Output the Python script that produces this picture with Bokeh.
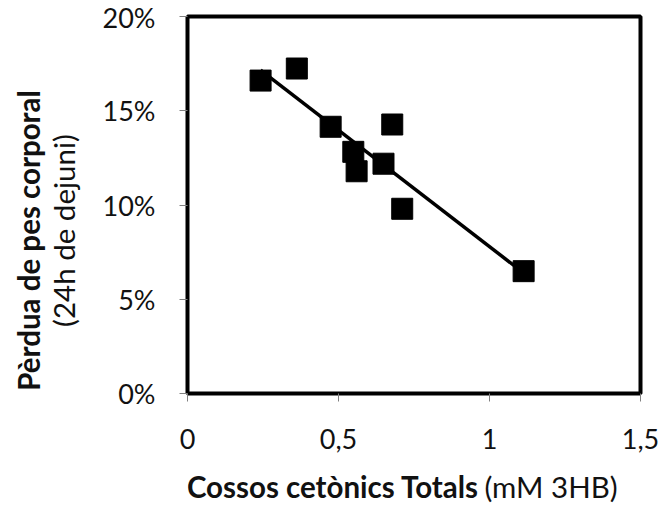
import numpy as np
from bokeh.plotting import figure
from bokeh.layouts import row, column
from bokeh.models import (Label, FixedTicker, NumeralTickFormatter, Range1d,
                          CustomJSTickFormatter, ColumnDataSource)
from bokeh.embed import file_html
from bokeh.resources import INLINE

# Total ketone bodies (mM 3HB) vs body weight loss after 24 h fasting
ketones = [0.242, 0.362, 0.474, 0.678, 0.549, 0.560, 0.649, 0.711, 1.113]
weight_loss = [0.1660, 0.1724, 0.1415, 0.1427, 0.1282, 0.1179, 0.1219, 0.0980, 0.0649]

x_ticks = [0, 0.5, 1, 1.5]
y_ticks = [0, 0.05, 0.10, 0.15, 0.20]

FONT = "Lato"
TEXT_COLOR = "#111111"
TICK_FONT_SIZE = "27px"
TITLE_FONT_SIZE = "29.5px"

LEFT_W = 90          # strip holding the y-axis title
MAIN_W, MAIN_H = 572, 462
BOTTOM_H = 55        # strip holding the x-axis title

# ---- main scatter panel -------------------------------------------------
p = figure(width=MAIN_W, height=MAIN_H, output_backend="svg", toolbar_location=None,
           x_range=Range1d(0, 1.5), y_range=Range1d(0, 0.20),
           min_border_left=97, min_border_right=22,
           min_border_top=16, min_border_bottom=MAIN_H - 393)

p.grid.visible = False
p.background_fill_color = "white"
p.border_fill_color = "white"
p.outline_line_color = "black"
p.outline_line_width = 4
p.outline_line_alpha = 1.0

for ax in (p.xaxis[0], p.yaxis[0]):
    ax.axis_line_color = None
    ax.major_tick_line_color = "#808080"
    ax.major_tick_line_width = 1
    ax.major_tick_in = 0
    ax.major_tick_out = 8
    ax.minor_tick_line_color = None
    ax.major_label_text_font = FONT
    ax.major_label_text_font_size = TICK_FONT_SIZE
    ax.major_label_text_color = TEXT_COLOR

p.xaxis.ticker = FixedTicker(ticks=x_ticks)
p.xaxis.formatter = CustomJSTickFormatter(code="return tick.toString().replace('.', ',');")
p.xaxis.major_label_standoff = 27

p.yaxis.ticker = FixedTicker(ticks=y_ticks)
p.yaxis.formatter = NumeralTickFormatter(format="0%")
p.yaxis.major_label_standoff = 24

# Linear trend line over the observed range
slope, intercept = np.polyfit(ketones, weight_loss, 1)
fit_x = [min(ketones), max(ketones)]
fit_y = [slope * v + intercept for v in fit_x]
p.line(fit_x, fit_y, line_color="black", line_width=3.5)

src = ColumnDataSource(dict(x=ketones, y=weight_loss))
p.scatter("x", "y", source=src, marker="square", size=21,
          fill_color="black", line_color="black")


# ---- text-only strips for the axis titles (mixed bold / normal) ----------
def text_strip(w, h):
    # pixel coordinates, y measured downward from the strip's top edge
    f = figure(width=w, height=h, output_backend="svg", toolbar_location=None,
               x_range=Range1d(0, w), y_range=Range1d(h, 0),
               x_axis_location=None, y_axis_location=None, min_border=0)
    f.grid.visible = False
    f.outline_line_color = None
    f.background_fill_color = "white"
    f.border_fill_color = "white"
    return f


def part(x, y, text, bold=False, align="center", angle=0.0):
    return Label(x=x, y=y, text=text, text_font=FONT,
                 text_font_style="bold" if bold else "normal",
                 text_font_size=TITLE_FONT_SIZE, text_color=TEXT_COLOR,
                 text_align=align, text_baseline="alphabetic", angle=angle)


ytitle = text_strip(LEFT_W, MAIN_H + BOTTOM_H)
ytitle.add_layout(part(28, 240, "Pèrdua de pes corporal", bold=True, angle=np.pi / 2))
ytitle.add_layout(part(63, 230, "(24h de dejuni)", angle=np.pi / 2))

xtitle = text_strip(MAIN_W, BOTTOM_H)
x_base = 486 - MAIN_H
xtitle.add_layout(part(458 - LEFT_W, x_base, "Cossos cetònics Totals", bold=True, align="right"))
xtitle.add_layout(part(465 - LEFT_W, x_base, "(mM 3HB)", align="left"))

layout = row(ytitle, column(p, xtitle, spacing=0), spacing=0)

open("out.html", "w").write(file_html(layout, INLINE))
